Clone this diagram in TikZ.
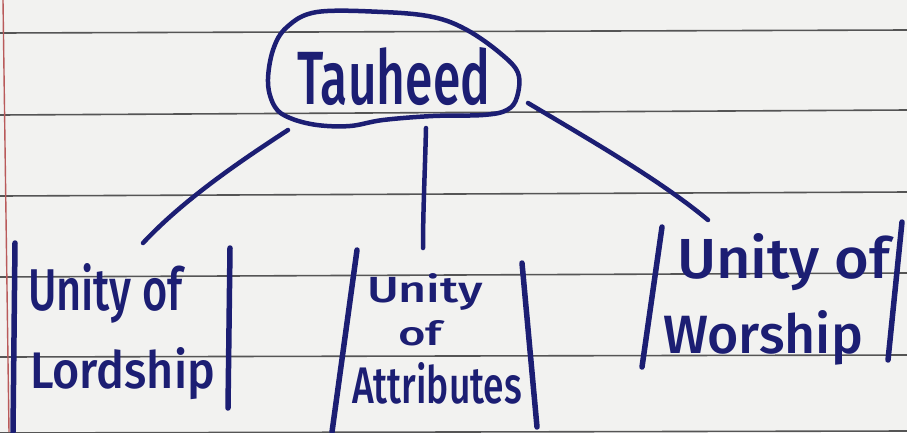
\documentclass[tikz,border=0pt]{standalone}
\usepackage{fontspec}
\setmainfont{Fira Sans}
\newfontfamily\handfont{Fira Sans Medium}
\usepackage{graphicx}
\definecolor{ink}{RGB}{28,30,115}
\definecolor{paper}{RGB}{242,242,240}
\definecolor{rulecol}{RGB}{85,85,85}
\definecolor{margincol}{RGB}{185,90,90}
\newcommand{\hw}[3]{\resizebox{#1pt}{#2pt}{\handfont #3}}
\begin{document}
\begin{tikzpicture}[x=1pt,y=-1pt,
  inkline/.style={draw=ink, line width=4.5pt, line cap=round, line join=round},
  barline/.style={draw=ink, line width=5.5pt, line cap=round},
  ruleline/.style={draw=rulecol, line width=1.6pt},
  lbl/.style={inner sep=0pt, outer sep=0pt, text=ink, anchor=base west}]
\fill[paper] (0,0) rectangle (907,432);
\useasboundingbox (0,0) rectangle (907,432);
% ruled paper
\draw[ruleline] (0,33) -- (907,30);
\draw[ruleline] (0,115) -- (907,110);
\draw[ruleline] (0,196) -- (907,192);
\draw[ruleline] (0,277) -- (907,273);
\draw[ruleline] (0,357) -- (907,355);
\draw[ruleline] (0,433) -- (907,431);
\draw[margincol, line width=1.4pt] (3,0) -- (9,432);
% central ellipse
\draw[inkline] plot[smooth cycle, tension=0.6] coordinates {
  (287,27) (317,12) (383,12) (433,17) (467,30) (500,53) (518,73)
  (517,97) (507,110) (483,115) (433,116) (383,120) (350,126)
  (317,125) (290,118) (275,107) (268,83) (273,50)};
\node[lbl] (tau) at (297,104) {\hw{193}{57}{Tauheed}};
% connector end points
\coordinate (tauL) at (288,130);
\coordinate (tauM) at (426,128);
\coordinate (tauR) at (528,103);
\coordinate (lordT) at (143,243);
\coordinate (attrT) at (423,248);
\coordinate (worT) at (708,220);
\draw[inkline] (tauL) .. controls (245,158) and (185,198) .. (lordT);
\draw[inkline] (tauM) .. controls (425,170) and (423,210) .. (attrT);
\draw[inkline] (tauR) .. controls (590,140) and (660,180) .. (worT);
% Unity of Lordship
\draw[barline] (15,243) -- (13,432);
\draw[barline] (230,248) -- (228,408);
\node[lbl] (lord1) at (28,310) {\hw{155}{47}{Unity of}};
\node[lbl] (lord2) at (30,388) {\hw{185}{41}{Lordship}};
% Unity of Attributes
\draw[barline] (357,250) -- (332,432);
\draw[barline] (522,263) -- (537,427);
\node[lbl] (attr1) at (367,302) {\hw{116}{29}{Unity}};
\node[lbl] (attr2) at (398,345) {\hw{44}{25}{of}};
\node[lbl] (attr3) at (352,403) {\hw{170}{41}{Attributes}};
% Unity of Worship
\draw[barline] (662,227) -- (642,367);
\draw[barline] (902,222) -- (888,360);
\node[lbl] (wor1) at (677,278) {\hw{213}{45}{Unity of}};
\node[lbl] (wor2) at (663,353) {\hw{200}{43}{Worship}};
\end{tikzpicture}
\end{document}
